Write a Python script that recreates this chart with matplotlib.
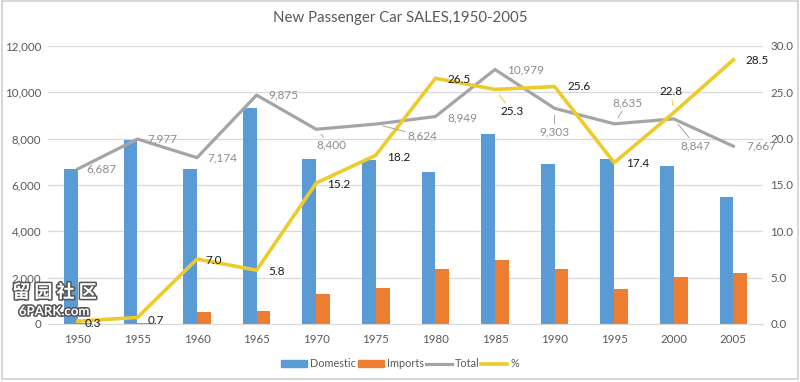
import matplotlib
matplotlib.use("Agg")
import matplotlib.pyplot as plt
import matplotlib.patheffects as pe
from matplotlib.patches import Patch
from matplotlib.lines import Line2D
import numpy as np

plt.rcParams['font.family'] = ['Lato', 'DejaVu Sans']

years = ['1950', '1955', '1960', '1965', '1970', '1975',
         '1980', '1985', '1990', '1995', '2000', '2005']
domestic = [6667, 7920, 6672, 9302, 7123, 7054, 6577, 8201, 6921, 7133, 6830, 5482]
imports = [20, 57, 502, 573, 1277, 1570, 2372, 2778, 2382, 1502, 2017, 2185]
total = [6687, 7977, 7174, 9875, 8400, 8624, 8949, 10979, 9303, 8635, 8847, 7667]
pct = [0.3, 0.7, 7.0, 5.8, 15.2, 18.2, 26.5, 25.3, 25.6, 17.4, 22.8, 28.5]

# label offsets in pixels (dx, dy, ha), to mimic Excel's placement
total_off = [(9, 0, 'left'), (10, 0, 'left'), (10, 0, 'left'), (12, 0, 'left'),
             (0, -16, 'left'), (32, -12, 'left'), (12, -1, 'left'), (12, 0, 'left'),
             (0, -24, 'center'), (13, 21, 'center'), (22, -27, 'center'), (13, 0, 'left')]
pct_off = [(7, -2, 'left'), (10, -3, 'left'), (8, -1, 'left'), (12, -1, 'left'),
           (11, -1, 'left'), (11, -2, 'left'), (12, -1, 'left'), (17, -22, 'center'),
           (13, 0, 'left'), (12, -1, 'left'), (-3, 21, 'center'), (12, -1, 'left')]

c_dom = '#5B9BD5'
c_imp = '#ED7D31'
c_tot = '#A5A5A5'
c_pct = '#EDCB2A'
c_txt = '#595959'
c_grid = '#D9D9D9'

fig = plt.figure(figsize=(8, 3.82), dpi=100)
fig.patch.set_facecolor('white')
ax = fig.add_axes([0.06, 0.152, 0.894, 0.728])
ax2 = ax.twinx()

x = np.arange(len(years))
w = 0.23
ax.bar(x - w / 2, domestic, w, color=c_dom, zorder=2)
ax.bar(x + w / 2, imports, w, color=c_imp, zorder=2)
ax.plot(x, total, color=c_tot, lw=2.3, zorder=3)
ax2.plot(x, pct, color=c_pct, lw=2.6, zorder=4)

ax.set_xlim(-0.5, len(years) - 0.5)
ax.set_ylim(0, 12000)
ax2.set_ylim(0, 30)
ax.set_yticks(np.arange(0, 12001, 2000))
ax.set_yticklabels([f'{v:,}' for v in range(0, 12001, 2000)])
ax2.set_yticks(np.arange(0, 30.1, 5))
ax2.set_yticklabels([f'{v:.1f}' for v in np.arange(0, 30.1, 5)])
ax.set_xticks(x)
ax.set_xticklabels(years)

ax.grid(axis='y', color=c_grid, lw=0.9, zorder=0)
ax.set_axisbelow(True)
for a in (ax, ax2):
    for s in a.spines.values():
        s.set_visible(False)
    a.tick_params(length=0, labelsize=8.3, colors=c_txt)
ax.spines['bottom'].set_visible(True)
ax.spines['bottom'].set_color(c_grid)
ax.tick_params(axis='x', pad=7)
ax.tick_params(axis='y', pad=5)
ax2.tick_params(axis='y', pad=5)

# data labels
ax.set_zorder(ax2.get_zorder() - 1)
ax.patch.set_visible(False)
for i in range(len(years)):
    dx, dy, ha = total_off[i]
    lead = abs(dx) > 20 or abs(dy) > 15
    ax2.annotate(f'{total[i]:,}', xy=(x[i], total[i] * 30 / 12000), xytext=(dx, dy),
                 textcoords='offset pixels', ha=ha, va='center', fontsize=8.5,
                 color='#8C8C8C', zorder=6,
                 arrowprops=dict(arrowstyle='-', color='#A5A5A5', lw=0.7,
                                 shrinkA=0, shrinkB=5) if lead else None)
    dx, dy, ha = pct_off[i]
    lead = abs(dx) > 15 or abs(dy) > 15
    ax2.annotate(f'{pct[i]:.1f}', xy=(x[i], pct[i]), xytext=(dx, dy),
                 textcoords='offset pixels', ha=ha, va='center', fontsize=8.5,
                 color='#1a1a1a', zorder=6,
                 arrowprops=dict(arrowstyle='-', color=c_pct, lw=0.7,
                                 shrinkA=0, shrinkB=5) if lead else None)

fig.text(0.5, 0.952, 'New Passenger Car SALES,1950-2005', ha='center', va='center',
         fontsize=10.8, color=c_txt)

handles = [Patch(color=c_dom), Patch(color=c_imp),
           Line2D([], [], color=c_tot, lw=2.3), Line2D([], [], color=c_pct, lw=2.6)]
fig.legend(handles, ['Domestic', 'Imports', 'Total', '%'], loc='center',
           bbox_to_anchor=(0.5, 0.048), ncol=4, frameon=False, fontsize=7.8,
           handlelength=2.4, handleheight=0.55, columnspacing=0.2, handletextpad=0.25,
           labelcolor=c_txt)

# watermark
wm = [pe.withStroke(linewidth=2.2, foreground='#555555')]
fig.text(0.068, 0.235, '留 园 社 区', ha='center', va='center', fontsize=13,
         color='white', family=['Noto Sans CJK SC', 'DejaVu Sans'], path_effects=wm,
         fontweight='bold')
fig.text(0.068, 0.185, '6PARK.com', ha='center', va='center', fontsize=9.5,
         color='white', fontweight='bold', path_effects=wm)

# chart frame
fig.add_artist(plt.Rectangle((0.002, 0.008), 0.996, 0.99, transform=fig.transFigure,
                             fill=False, ec='#D0D0D0', lw=1.2))

fig.savefig('out.png', dpi=100)
